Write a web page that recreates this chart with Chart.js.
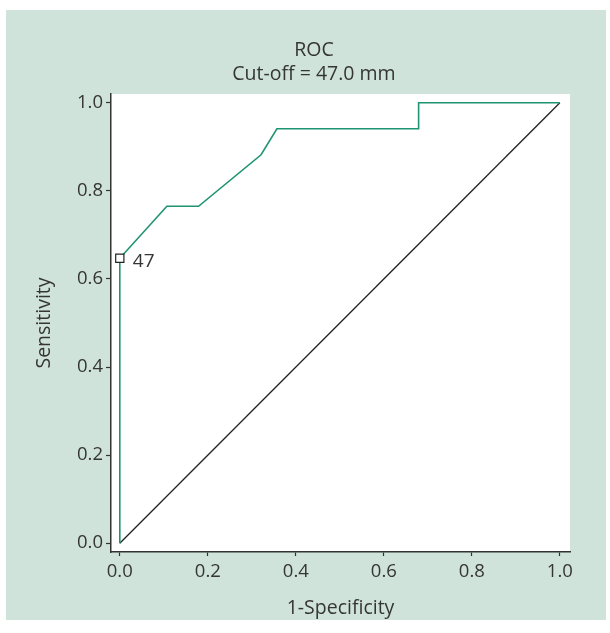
<!DOCTYPE html>
<html>
<head>
<meta charset="utf-8">
<script src="https://cdn.jsdelivr.net/npm/chart.js@4.4.1/dist/chart.umd.min.js"></script>
<style>
  body { margin: 0; background: #fff; }
  #panel { position: absolute; left: 6px; top: 10px; width: 600px; height: 610px; background: #cfe3da; }
  #rocChart { position: absolute; left: 0; top: 0; }
</style>
</head>
<body>
<div id="panel">
  <canvas id="rocChart" width="600" height="610"></canvas>
</div>
<script>
// ROC krivulja (1-specificnost, obcutljivost)
var fpr = [0, 0, 0.107, 0.179, 0.321, 0.357, 0.679, 0.679, 1.0];
var tpr = [0, 0.647, 0.765, 0.765, 0.882, 0.941, 0.941, 1.0, 1.0];
var refX = [0, 1];
var refY = [0, 1];
var cutX = [0];
var cutY = [0.647];
var cutLabels = ['47'];
var tickVals = [0, 0.2, 0.4, 0.6, 0.8, 1.0];
var titleLines = ['ROC', 'Cut-off = 47.0 mm'];

function toPoints(xs, ys) {
    return xs.map(function (x, i) { return { x: x, y: ys[i] }; });
}

var fontFam = "'Open Sans', 'Noto Sans', sans-serif";
var txt = '#353535';

// bela povrsina grafa
var plotBg = {
    id: 'plotBg',
    beforeDraw: function (chart) {
        var a = chart.chartArea;
        var ctx = chart.ctx;
        ctx.save();
        ctx.fillStyle = '#ffffff';
        ctx.fillRect(a.left, a.top, a.right - a.left, a.bottom - a.top);
        ctx.restore();
    }
};

// naslov nad grafom (dve vrstici)
var topTitle = {
    id: 'topTitle',
    afterDraw: function (chart) {
        var ctx = chart.ctx;
        ctx.save();
        ctx.font = '19.5px ' + fontFam;
        ctx.fillStyle = txt;
        ctx.textAlign = 'center';
        ctx.textBaseline = 'alphabetic';
        titleLines.forEach(function (line, i) {
            ctx.fillText(line, 308, 46 + i * 24);
        });
        ctx.restore();
    }
};

// oznaka cut-off tocke
var cutText = {
    id: 'cutText',
    afterDatasetsDraw: function (chart) {
        var meta = chart.getDatasetMeta(2);
        var ctx = chart.ctx;
        ctx.save();
        ctx.font = '19px ' + fontFam;
        ctx.fillStyle = txt;
        ctx.textBaseline = 'middle';
        meta.data.forEach(function (pt, i) {
            ctx.fillText(cutLabels[i], pt.x + 13, pt.y + 3);
        });
        ctx.restore();
    }
};

function keepTicks(scale) {
    scale.ticks = tickVals.map(function (v) { return { value: v }; });
}

var ctx = document.getElementById('rocChart').getContext('2d');
var rocChart = new Chart(ctx, {
    type: 'scatter',
    data: {
        datasets: [{
            label: 'ROC',
            data: toPoints(fpr, tpr),
            showLine: true,
            borderColor: '#1f9473',
            borderWidth: 1.6,
            pointRadius: 0,
            tension: 0,
            order: 1
        }, {
            label: 'ref',
            data: toPoints(refX, refY),
            showLine: true,
            borderColor: '#222222',
            borderWidth: 1.3,
            pointRadius: 0,
            order: 2
        }, {
            label: 'cut-off',
            data: toPoints(cutX, cutY),
            showLine: false,
            pointStyle: 'rect',
            pointRadius: 5.8,
            backgroundColor: '#ffffff',
            borderColor: '#222222',
            borderWidth: 1.2,
            order: 0
        }]
    },
    options: {
        responsive: false,
        animation: false,
        layout: { padding: { left: 0, right: 36, top: 84, bottom: 0 } },
        plugins: {
            legend: { display: false },
            tooltip: { enabled: false },
            title: { display: false }
        },
        scales: {
            x: {
                type: 'linear',
                min: -0.02,
                max: 1.023,
                afterBuildTicks: keepTicks,
                afterFit: function (s) { s.height = 68; },
                border: { display: true, color: '#333333', width: 1.5 },
                grid: { drawOnChartArea: false, drawTicks: true, tickLength: 4, tickColor: '#333333', tickWidth: 1.2 },
                ticks: {
                    color: txt,
                    padding: 5,
                    maxRotation: 0,
                    font: { family: fontFam, size: 18.5 },
                    callback: function (v) { return Number(v).toFixed(1); }
                },
                title: {
                    display: true,
                    text: '1-Specificity',
                    color: txt,
                    font: { family: fontFam, size: 19.5 },
                    padding: { top: 3, bottom: 0 }
                }
            },
            y: {
                type: 'linear',
                min: -0.02,
                max: 1.02,
                afterBuildTicks: keepTicks,
                afterFit: function (s) { s.width = 105; },
                border: { display: true, color: '#333333', width: 1.5 },
                grid: { drawOnChartArea: false, drawTicks: true, tickLength: 5, tickColor: '#333333', tickWidth: 1.2 },
                ticks: {
                    color: txt,
                    padding: 3,
                    font: { family: fontFam, size: 18.5 },
                    callback: function (v) { return Number(v).toFixed(1); }
                },
                title: {
                    display: true,
                    text: 'Sensitivity',
                    color: txt,
                    font: { family: fontFam, size: 19.5 },
                    padding: { top: 27, bottom: 0 }
                }
            }
        }
    },
    plugins: [plotBg, topTitle, cutText]
});
</script>
</body>
</html>
